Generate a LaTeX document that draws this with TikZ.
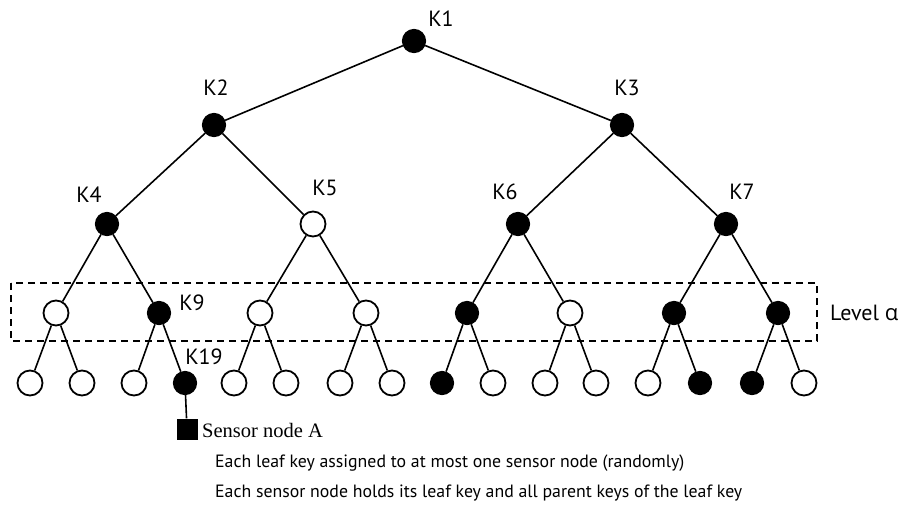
\documentclass[tikz,border=0pt]{standalone}
\usepackage{fontspec}
\setmainfont{PT Sans}
\newfontfamily\serifnote{Liberation Serif}
\newfontfamily\greekfont{Open Sans}
\usepackage{tikz}
\tikzset{
    keyon/.style={circle, draw=black, fill=black, line width=1.2pt, minimum size=23pt, inner sep=0pt},
    keyoff/.style={circle, draw=black, fill=white, line width=1.8pt, minimum size=25pt, inner sep=0pt},
    keytag/.style={font=\fontsize{22}{26}\selectfont, inner sep=0pt},
    notetext/.style={anchor=west, font=\fontsize{17.8}{21}\selectfont, inner sep=0pt},
    branch/.style={line width=1.6pt},
    levelbox/.style={line width=1.7pt, dash pattern=on 7pt off 5pt}
}

\begin{document}
\begin{tikzpicture}[x=1pt, y=-1pt]
    \useasboundingbox (0,0) rectangle (902,515);
    % upper keys
    \node[keyon] (k1) at (414,41) {};
    \node[keyon] (k2) at (214,125) {};
    \node[keyon] (k3) at (622,125) {};
    \node[keyon] (k4) at (107,224) {};
    \node[keyoff] (k5) at (313,224) {};
    \node[keyon] (k6) at (518,224) {};
    \node[keyon] (k7) at (726,224) {};
    % level alpha
    \foreach \i/\x/\s in {8/56/keyoff, 9/159/keyon, 10/260/keyoff, 11/366/keyoff,
                          12/467/keyon, 13/570/keyoff, 14/674/keyon, 15/778/keyon}
        \node[\s] (k\i) at (\x,313) {};
    % leaf keys
    \foreach \i/\x/\s in {16/30/keyoff, 17/82/keyoff, 18/134/keyoff, 19/185/keyon,
                          20/234/keyoff, 21/286/keyoff, 22/340/keyoff, 23/392/keyoff,
                          24/442/keyon, 25/493/keyoff, 26/545/keyoff, 27/596/keyoff,
                          28/648/keyoff, 29/700/keyon, 30/752/keyon, 31/804/keyoff}
        \node[\s] (k\i) at (\x,383) {};
    % tree edges
    \foreach \p in {1,...,15}{
        \pgfmathtruncatemacro{\ca}{2*\p}
        \pgfmathtruncatemacro{\cb}{2*\p+1}
        \draw[branch] (k\p) -- (k\ca);
        \draw[branch] (k\p) -- (k\cb);
    }
    % labels
    \node[keytag] (t1) at (441,19) {K1};
    \node[keytag] (t2) at (216,88) {K2};
    \node[keytag] (t3) at (627,88) {K3};
    \node[keytag] (t4) at (89,195) {K4};
    \node[keytag] (t5) at (325,188) {K5};
    \node[keytag] (t6) at (505,192) {K6};
    \node[keytag] (t7) at (742,192) {K7};
    \node[keytag] (t9) at (192,303) {K9};
    \node[keytag] (t19) at (204,357) {K19};
    % level box
    \draw[levelbox] (11,283) rectangle (817,341);
    \node[keytag, anchor=west] (lvl) at (830,313) {Level {\greekfont α}};
    % sensor node
    \node[fill=black, minimum size=21pt, inner sep=0pt] (sa) at (187,429) {};
    \draw[branch] (k19) -- (sa);
    \node[anchor=west, font=\serifnote\fontsize{20.5}{24}\selectfont, inner sep=0pt] (sat) at (202,430) {Sensor node A};
    % notes
    \node[notetext] (n1) at (215,463) {Each leaf key assigned to at most one sensor node (randomly)};
    \node[notetext] (n2) at (215,493) {Each sensor node holds its leaf key and all parent keys of the leaf key};
\end{tikzpicture}
\end{document}
